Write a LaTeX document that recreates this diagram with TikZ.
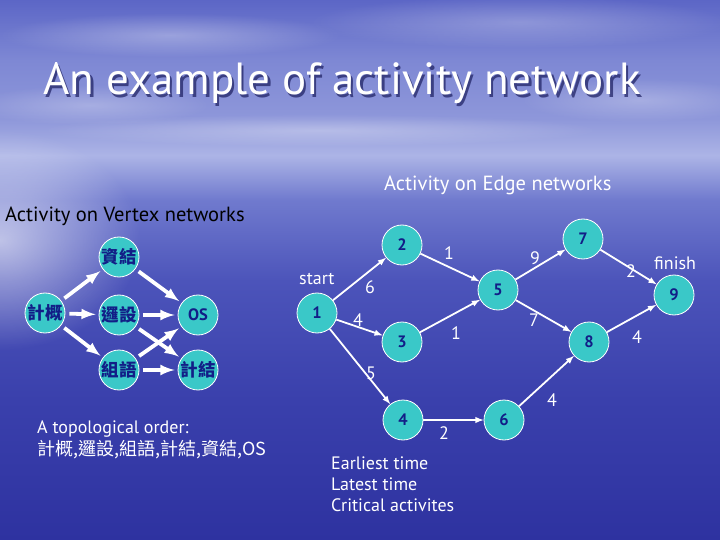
\documentclass[tikz,border=0pt]{standalone}
\usepackage{fontspec}
\setmainfont{PT Sans}
\newfontfamily\cjk{Noto Sans CJK TC}
\usetikzlibrary{fadings}

\definecolor{nodecol}{RGB}{58,200,200}
\definecolor{numcol}{RGB}{18,30,135}
\definecolor{shadowcol}{RGB}{28,30,95}
\definecolor{seaa}{RGB}{46,50,160}
\definecolor{seab}{RGB}{58,64,172}
\definecolor{seac}{RGB}{76,84,186}
\definecolor{sead}{RGB}{112,122,206}
\definecolor{seae}{RGB}{172,180,230}
\definecolor{seaf}{RGB}{142,151,218}
\definecolor{seag}{RGB}{126,136,212}
\definecolor{seah}{RGB}{92,102,198}

% sky and sea, bottom to top
\pgfdeclareverticalshading{sea}{100bp}{color(0bp)=(seaa); color(25bp)=(seaa);
  color(38bp)=(seab); color(49bp)=(seac); color(56.5bp)=(sead);
  color(60.6bp)=(seae); color(64bp)=(seaf); color(69.4bp)=(seag);
  color(75bp)=(seah); color(100bp)=(seah)}
\tikzfading[name=glowfade,inner color=transparent!0,outer color=transparent!100]

\newcommand\titlefont{\fontsize{45bp}{50bp}\selectfont}
\newcommand\headfont{\fontsize{20.5bp}{24bp}\selectfont}
\newcommand\txtfont{\fontsize{18bp}{21bp}\selectfont}
\newcommand\numfont{\fontsize{16.5bp}{19bp}\selectfont\bfseries}
\newcommand\hanfont{\cjk\fontsize{17.5bp}{19bp}\selectfont\bfseries}
\newcommand\lblfont{\fontsize{18bp}{21bp}\selectfont}

\tikzstyle{vertex}=[circle,draw=white,line width=0.8bp,fill=nodecol,minimum size=40bp,inner sep=0pt,text=numcol,font=\numfont]
\tikzstyle{aov}=[->,draw=white,line width=3.8bp,shorten <=4bp,shorten >=3bp]
\tikzstyle{aoe}=[->,draw=white,line width=1.8bp]
\tikzstyle{weight}=[text=white,font=\lblfont,inner sep=0pt]
\tikzstyle{label}=[anchor=base west,inner sep=0pt,text=white]
\tikzstyle{cloud}=[white,path fading=glowfade]
\tikzset{>=latex}

\begin{document}
\begin{tikzpicture}[x=1bp,y=-1bp]
  \shade[shading=sea] (0,0) rectangle (720,540);
  \useasboundingbox (0,0) rectangle (720,540);
  % clouds and glare
  \fill[cloud,opacity=0.3] (170,35) ellipse (170 and 22);
  \fill[cloud,opacity=0.25] (520,22) ellipse (210 and 26);
  \fill[cloud,opacity=0.25] (640,100) ellipse (120 and 22);
  \fill[cloud,opacity=0.3] (320,130) ellipse (280 and 16);
  \fill[cloud,opacity=0.25] (90,105) ellipse (120 and 20);
  \fill[cloud,opacity=0.6] (0,240) ellipse (140 and 110);

  % title
  \node[label,text=shadowcol,opacity=0.7,font=\titlefont] at (45.5,97.5) {An example of activity network};
  \node[label,font=\titlefont](title) at (43,95) {An example of activity network};

  \node[label,font=\headfont](aoeh) at (384,191) {Activity on Edge networks};
  \node[label,text=black,font=\headfont](aovh) at (5,222) {Activity on Vertex networks};

  % Activity on vertex
  \node[vertex,font=\hanfont](jg) at (45,313) {計概};
  \node[vertex,font=\hanfont](zj) at (119,257) {資結};
  \node[vertex,font=\hanfont](lj) at (119,315) {邏設};
  \node[vertex,font=\hanfont](zy) at (119,370) {組語};
  \node[vertex](os) at (198,315) {OS};
  \node[vertex,font=\hanfont](jj) at (198,370) {計結};

  \draw[aov] (jg) -- (zj);
  \draw[aov] (jg) -- (lj);
  \draw[aov] (jg) -- (zy);
  \draw[aov] (zj) -- (os);
  \draw[aov] (lj) -- (os);
  \draw[aov] (lj) -- (jj);
  \draw[aov] (zy) -- (os);
  \draw[aov] (zy) -- (jj);

  \node[label,font=\txtfont](topo) at (37,433) {A topological order:};
  \node[label,font=\cjk\txtfont](order) at (37,455) {計概,邏設,組語,計結,資結,OS};

  % Activity on edge
  \node[vertex](v1) at (317,313) {1};
  \node[vertex](v2) at (402,245) {2};
  \node[vertex](v3) at (402,342) {3};
  \node[vertex](v4) at (403,420) {4};
  \node[vertex](v5) at (498,290) {5};
  \node[vertex](v6) at (504,420) {6};
  \node[vertex](v7) at (583,239) {7};
  \node[vertex](v8) at (589,342) {8};
  \node[vertex](v9) at (674,295) {9};

  \node[label,font=\lblfont](start) at (299,285) {start};
  \node[label,font=\lblfont](finish) at (654,270) {finish};

  \draw[aoe] (v1) -- (v2);
  \draw[aoe] (v1) -- (v3);
  \draw[aoe] (v1) -- (v4);
  \draw[aoe] (v2) -- (v5);
  \draw[aoe] (v3) -- (v5);
  \draw[aoe] (v5) -- (v7);
  \draw[aoe] (v5) -- (v8);
  \draw[aoe] (v4) -- (v6);
  \draw[aoe] (v6) -- (v8);
  \draw[aoe] (v7) -- (v9);
  \draw[aoe] (v8) -- (v9);

  \node[weight](w12) at (370,287) {6};
  \node[weight](w13) at (358,320) {4};
  \node[weight](w14) at (371,373) {5};
  \node[weight](w25) at (449,253) {1};
  \node[weight](w35) at (456,333) {1};
  \node[weight](w57) at (535,258) {9};
  \node[weight](w58) at (534,320) {7};
  \node[weight](w46) at (444,433) {2};
  \node[weight](w68) at (552,400) {4};
  \node[weight](w79) at (631,271) {2};
  \node[weight](w89) at (637,337) {4};

  \node[label,font=\txtfont](early) at (331,469) {Earliest time};
  \node[label,font=\txtfont](late) at (331,490) {Latest time};
  \node[label,font=\txtfont](crit) at (331,511) {Critical activites};
\end{tikzpicture}
\end{document}
